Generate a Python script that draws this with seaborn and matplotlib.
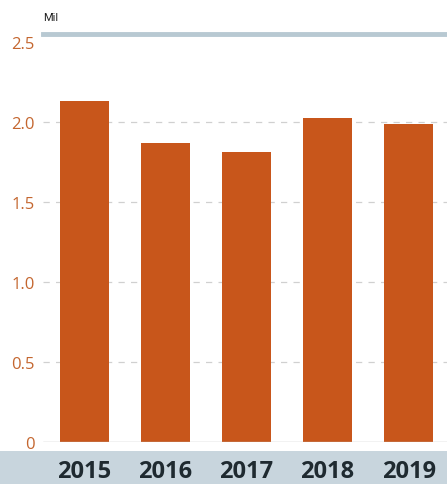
import matplotlib
matplotlib.use("Agg")
import matplotlib.pyplot as plt
import seaborn as sns
import pandas as pd
from matplotlib.patches import Rectangle

years = ["2015", "2016", "2017", "2018", "2019"]
values = [2.13, 1.87, 1.81, 2.025, 1.99]
yticks = [0, 0.5, 1.0, 1.5, 2.0, 2.5]
ytick_labels = ["0", "0.5", "1.0", "1.5", "2.0", "2.5"]

df = pd.DataFrame({"year": years, "value": values})

sns.set_style("white")
plt.rcParams["font.family"] = ["Open Sans", "DejaVu Sans"]

W, H = 447, 485
fig = plt.figure(figsize=(W / 100, H / 100), dpi=100)
fig.patch.set_facecolor("white")

# bottom band
fig.patches.append(Rectangle((0, 0), 1, 33 / H, transform=fig.transFigure,
                             facecolor="#c8d5dd", edgecolor="none", zorder=0))

left, right = 43, 450
bottom, top = 443, 35
ax = fig.add_axes([left / W, (H - bottom) / H, (right - left) / W, (bottom - top) / H])
ax.set_facecolor("none")
ax.set_zorder(2)

sns.barplot(data=df, x="year", y="value", color="#c8561b", saturation=1,
            width=0.6, ax=ax, edgecolor="none", zorder=3)

ax.set_xlim(-0.51, 4.51)
ax.set_ylim(0, 2.55)
ax.set_yticks(yticks)
ax.set_yticklabels(ytick_labels)
ax.tick_params(axis="y", length=0, pad=6, labelsize=12, labelcolor="#c4662f")
ax.tick_params(axis="x", length=0, pad=12, labelsize=17)
for lbl in ax.get_xticklabels():
    lbl.set_fontweight("bold")
    lbl.set_color("#1f2a30")
for y in yticks[1:-1]:
    ax.axhline(y, color="#d0d0d0", linestyle=(0, (5, 5)), linewidth=0.9, zorder=1)
ax.axhline(0, color="#bdbdbd", linewidth=1.0, zorder=4)
ax.set_xlabel("")
ax.set_ylabel("")
for s in ["left", "right", "bottom"]:
    ax.spines[s].set_visible(False)
ax.spines["top"].set_visible(True)
ax.spines["top"].set_color("#b8c9d2")
ax.spines["top"].set_linewidth(3.5)

fig.text(43 / W, 1 - 18 / H, "Mil", fontsize=8, color="#222222",
         family=["Roboto", "DejaVu Sans"], va="center", ha="left")

fig.savefig("out.png", dpi=100, facecolor="white")
